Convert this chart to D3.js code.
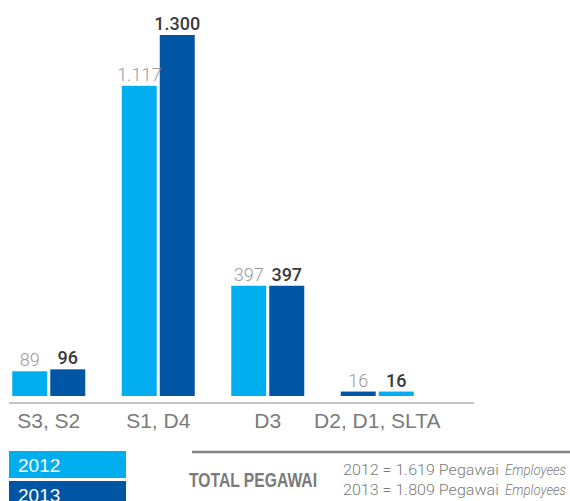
<!DOCTYPE html>
<html>
<head>
<meta charset="utf-8">
<script src="https://cdn.jsdelivr.net/npm/d3@7"></script>
<style>
  body { margin: 0; background: #fff; }
  svg { display: block; }
</style>
</head>
<body>
<div id="canvas"></div>
<script>
const categories = ["S3, S2", "S1, D4", "D3", "D2, D1, SLTA"];
const years = ["2012", "2013"];
const values2012 = [89, 1117, 397, 16];
const values2013 = [96, 1300, 397, 16];
// in the last group the picture draws the colours the other way round
const swapColours = ["D2, D1, SLTA"];
const totals = [
  { year: "2012", total: 1619 },
  { year: "2013", total: 1809 }
];

const width = 570;
const height = 501;
const baseY = 396;
const light = "#00aeef";
const dark = "#0055a5";

const locale = d3.formatLocale({ decimal: ",", thousands: ".", grouping: [3], currency: ["", ""] });
const fmt = locale.format(",d");

const rows = categories.map((c, i) => ({ name: c, v: [values2012[i], values2013[i]] }));

const svg = d3.select("#canvas")
  .append("svg")
  .attr("width", width)
  .attr("height", height);

const x = d3.scaleBand()
  .domain(categories)
  .range([-6, 432]);

const xs = d3.scaleBand()
  .domain(years)
  .range([0, 73])
  .paddingInner(0.08);

const y = d3.scaleLinear()
  .domain([0, d3.max(values2013)])
  .range([baseY, 35]);

const groups = svg.selectAll("g.grp")
  .data(rows)
  .enter()
  .append("g")
  .attr("class", "grp")
  .attr("transform", d => `translate(${x(d.name) + x.bandwidth() / 2 - 36.5},0)`);

groups.selectAll("rect")
  .data(d => years.map((yr, k) => ({ yr, k, v: d.v[k], swap: swapColours.includes(d.name) })))
  .enter()
  .append("rect")
  .attr("x", d => xs(d.yr))
  .attr("y", d => y(d.v))
  .attr("width", xs.bandwidth())
  .attr("height", d => baseY - y(d.v))
  .style("fill", d => ((d.k === 0) !== d.swap) ? light : dark);

groups.selectAll("text")
  .data(d => years.map((yr, k) => ({ yr, k, v: d.v[k] })))
  .enter()
  .append("text")
  .attr("x", d => xs(d.yr) + xs.bandwidth() / 2)
  .attr("y", d => y(d.v) - 5)
  .attr("text-anchor", "middle")
  .style("font-family", "Roboto, 'Liberation Sans', sans-serif")
  .style("font-size", "18px")
  .style("font-weight", d => d.k === 0 ? 300 : 500)
  .style("fill", d => d.k === 0 ? "#9a9a9a" : "#3a3a3a")
  .text(d => fmt(d.v));

// baseline
svg.append("line")
  .attr("x1", 9).attr("x2", 474)
  .attr("y1", 403).attr("y2", 403)
  .style("stroke", "#c4c4c4")
  .style("stroke-width", 2);

const xAxis = svg.append("g")
  .attr("transform", "translate(0,413)")
  .call(d3.axisBottom(x).tickSize(0).tickPadding(0));
xAxis.select(".domain").remove();
xAxis.selectAll("text")
  .attr("dy", "0.72em")
  .style("font-family", "'Liberation Sans', Arial, sans-serif")
  .style("font-size", "21px")
  .style("fill", "#7a7a7a");

// legend
const legend = svg.selectAll("g.leg")
  .data(years)
  .enter()
  .append("g")
  .attr("class", "leg")
  .attr("transform", (d, i) => `translate(9,${451 + i * 30})`);

legend.append("rect")
  .attr("width", 117)
  .attr("height", 27)
  .style("fill", (d, i) => i === 0 ? light : dark);

legend.append("text")
  .attr("x", 9)
  .attr("y", 21)
  .style("font-family", "'Liberation Sans', Arial, sans-serif")
  .style("font-size", "19px")
  .style("fill", "#fff")
  .text(d => d);

// totals block
svg.append("line")
  .attr("x1", 192).attr("x2", 570)
  .attr("y1", 452).attr("y2", 452)
  .style("stroke", "#858585")
  .style("stroke-width", 2.5);

svg.append("text")
  .attr("x", 189)
  .attr("y", 487)
  .attr("textLength", 128)
  .attr("lengthAdjust", "spacingAndGlyphs")
  .style("font-family", "'Liberation Sans Narrow', 'Liberation Sans', Arial, sans-serif")
  .style("font-size", "21px")
  .style("font-weight", "bold")
  .style("fill", "#7a7a7a")
  .text("TOTAL PEGAWAI");

const tot = svg.selectAll("g.tot")
  .data(totals)
  .enter()
  .append("g")
  .attr("class", "tot")
  .attr("transform", (d, i) => `translate(0,${474.5 + i * 20})`)
  .style("font-family", "Roboto, 'Liberation Sans', sans-serif")
  .style("font-size", "15.5px")
  .style("font-weight", 300)
  .style("fill", "#7a7a7a");

// squeeze each piece horizontally to the width it has in the picture
const fitText = (sel, left, w) => {
  sel.each(function() {
    const n = this.getComputedTextLength();
    d3.select(this).attr("transform", `translate(${left},0) scale(${w / n},1)`);
  });
};

tot.append("text")
  .text(d => `${d.year} = ${fmt(d.total)} Pegawai`)
  .call(fitText, 343, 156);

tot.append("text")
  .style("font-style", "italic")
  .text("Employees")
  .call(fitText, 505, 61);
</script>
</body>
</html>
